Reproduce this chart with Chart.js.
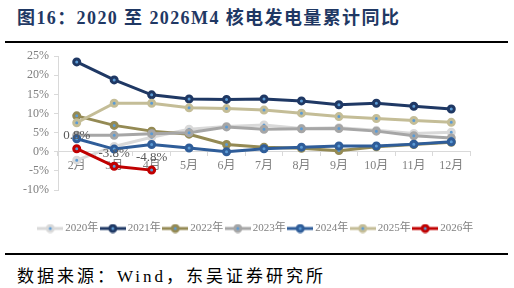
<!DOCTYPE html>
<html>
<head>
<meta charset="utf-8">
<script src="https://cdn.jsdelivr.net/npm/chart.js@4.4.0/dist/chart.umd.min.js"></script>
<style>
  body { margin: 0; width: 514px; height: 288px; background: #fff; position: relative; overflow: hidden; }
  .title { position: absolute; left: 17px; top: 3px; font: bold 18px "Liberation Serif", "Noto Sans CJK SC", serif; color: #1f3864; letter-spacing: 1.4px; white-space: nowrap; }
  .rule { position: absolute; left: 5px; width: 503px; height: 2px; background: #000; }
  .source { position: absolute; left: 17px; top: 262px; font: 17px "Liberation Serif", "Noto Sans CJK SC", serif; color: #000; letter-spacing: 3px; white-space: nowrap; }
  #chart { position: absolute; left: 0; top: 44px; }
</style>
</head>
<body>
<div class="title">图16：2020 至 2026M4 核电发电量累计同比</div>
<div class="rule" style="top:41px"></div>
<canvas id="chart" width="514" height="200"></canvas>
<div class="rule" style="top:253px"></div>
<div class="source">数据来源：Wind，东吴证券研究所</div>
<script>
const months = ['2月', '3月', '4月', '5月', '6月', '7月', '8月', '9月', '10月', '11月', '12月'];
const y2020 = [-2.2, 1.4, 3.8, 5.9, 6.6, 7.0, 6.1, 6.3, 5.6, 4.8, 5.1];
const y2021 = [23.5, 18.8, 14.9, 13.8, 13.7, 13.8, 13.3, 12.3, 12.7, 11.9, 11.2];
const y2022 = [9.4, 6.9, 5.4, 4.6, 1.9, 1.2, 0.9, 0.3, 1.3, 1.9, 2.5];
const y2023 = [4.3, 4.3, 4.7, 5.0, 6.5, 5.9, 6.0, 6.1, 5.4, 4.2, 3.6];
const y2024 = [3.4, 0.7, 1.9, 1.0, 0.0, 0.8, 1.2, 1.5, 1.5, 2.0, 2.6];
const y2025 = [7.6, 12.7, 12.7, 11.5, 11.3, 10.9, 10.1, 9.2, 8.7, 8.2, 7.7];
const y2026 = [0.8, -3.8, -4.8];
const seriesNames = ['2020年', '2021年', '2022年', '2023年', '2024年', '2025年', '2026年'];
const seriesColors = ['#d9d9d9', '#1f3864', '#948a54', '#a6a6a6', '#2f5d99', '#c4bd97', '#c00000'];
const dotColor = '#5b9bd5';
const serif = '"Liberation Serif", "Noto Sans CJK SC", serif';

// little line+circle icon for the legend
function legendIcon(color) {
  const c = document.createElement('canvas');
  c.width = 26; c.height = 10;
  const g = c.getContext('2d');
  g.strokeStyle = color; g.lineWidth = 3;
  g.beginPath(); g.moveTo(0, 5); g.lineTo(26, 5); g.stroke();
  g.beginPath(); g.arc(13, 5, 3, 0, Math.PI * 2);
  g.fillStyle = dotColor; g.fill(); g.stroke();
  return c;
}

const allData = [y2020, y2021, y2022, y2023, y2024, y2025, y2026];
const datasets = allData.map((d, i) => ({
  label: seriesNames[i],
  data: d,
  borderColor: seriesColors[i],
  backgroundColor: seriesColors[i],
  borderWidth: 3,
  pointRadius: 3,
  pointBorderWidth: 3,
  pointBackgroundColor: dotColor,
  pointBorderColor: seriesColors[i],
  tension: 0,
  order: 6 - i
}));

const labelPlugin = {
  id: 'labels2026',
  afterDatasetsDraw(chart) {
    const ctx = chart.ctx;
    const meta = chart.getDatasetMeta(6);
    ctx.save();
    ctx.font = '13px ' + serif;
    ctx.fillStyle = '#595959';
    ctx.textAlign = 'center';
    ctx.textBaseline = 'middle';
    meta.data.forEach((p, i) => {
      ctx.fillText(y2026[i].toFixed(1) + '%', p.x, p.y - 13);
    });
    ctx.restore();
  }
};

new Chart(document.getElementById('chart'), {
  type: 'line',
  data: { labels: months, datasets: datasets },
  options: {
    responsive: false,
    animation: false,
    layout: { padding: { top: 8, right: 0, bottom: 0, left: 0 } },
    plugins: {
      tooltip: { enabled: false },
      legend: {
        position: 'bottom',
        labels: {
          usePointStyle: true,
          pointStyleWidth: 19,
          padding: 5,
          color: '#808080',
          font: { family: serif, size: 11 },
          generateLabels: (chart) => chart.data.datasets.map((ds, i) => ({
            text: ds.label,
            pointStyle: legendIcon(seriesColors[i]),
            fillStyle: seriesColors[i],
            strokeStyle: seriesColors[i],
            lineWidth: 0,
            fontColor: '#808080',
            datasetIndex: i
          }))
        }
      }
    },
    scales: {
      x: {
        position: { y: 0 },
        offset: true,
        grid: { drawOnChartArea: false, drawTicks: true, tickLength: 4, color: '#d9d9d9', offset: true },
        border: { color: '#d9d9d9', width: 1 },
        ticks: { color: '#7f7f7f', font: { family: serif, size: 12 }, padding: 3, maxRotation: 0, autoSkip: false }
      },
      // empty bottom spacer between plot and legend
      gap: {
        axis: 'x',
        type: 'category',
        position: 'bottom',
        afterFit: (s) => { s.height = 28; },
        grid: { display: false },
        border: { display: false },
        ticks: { display: false }
      },
      y: {
        min: -10,
        max: 25,
        afterFit: (s) => { s.width = 58; },
        grid: { drawOnChartArea: false, drawTicks: true, tickLength: 4, color: '#d9d9d9' },
        border: { color: '#d9d9d9', width: 1 },
        ticks: { stepSize: 5, color: '#7f7f7f', font: { family: serif, size: 12 }, padding: 5, callback: (v) => v + '%' }
      },
      // empty right-hand spacer so the plot ends where the reference does
      spacer: {
        axis: 'y',
        position: 'right',
        afterFit: (s) => { s.width = 44; },
        grid: { display: false },
        border: { display: false },
        ticks: { display: false }
      }
    }
  },
  plugins: [labelPlugin]
});
</script>
</body>
</html>
